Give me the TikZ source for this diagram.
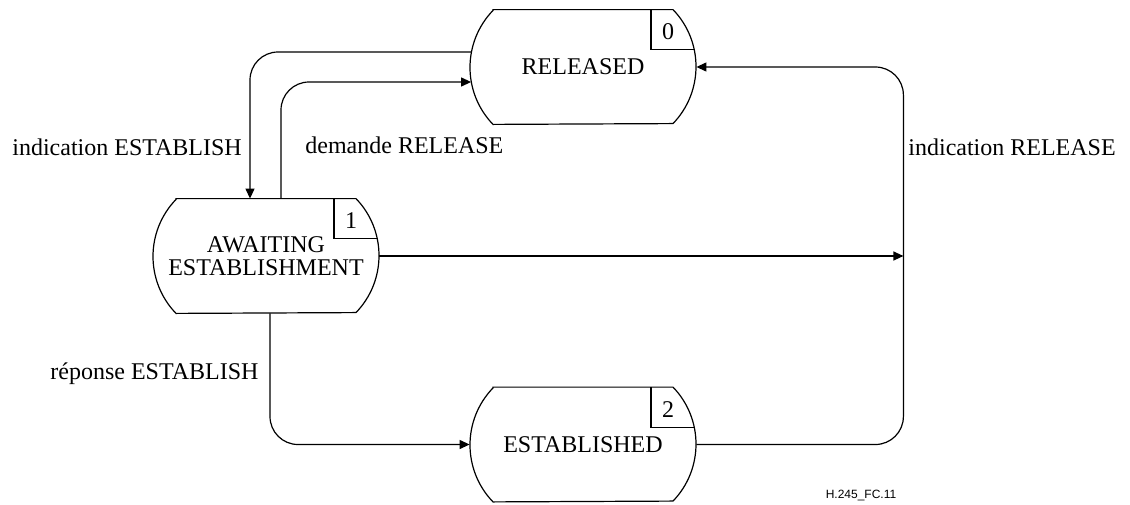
\documentclass[tikz,border=0pt]{standalone}
\usepackage{fontspec}
\setmainfont{Liberation Serif}
\newfontfamily\figfont{Liberation Sans}
\usetikzlibrary{arrows.meta,calc}

\tikzset{
  statebox/.style={rectangle, draw=none, inner sep=0pt, minimum width=113pt, minimum height=57pt, align=center, font=\fontsize{12}{11.6}\selectfont},
  statenum/.style={inner sep=0pt, font=\fontsize{12}{14}\selectfont},
  flow/.style={line width=0.6pt, rounded corners=14pt, -{Triangle[length=5pt,width=4.5pt]}},
  lbl/.style={anchor=base west, inner sep=0pt, font=\fontsize{12}{14}\selectfont},
}

% SDL state symbol: name, position, text, number
\newcommand{\sdlstate}[4]{%
  \node[statebox] (#1) at (#2) {#3};
  \draw[line width=0.6pt] ($(#1.north)+(-90,0)$) -- ($(#1.north)+(90,0)$) arc[start angle=-43.96, end angle=43.96, radius=82.1] -- ($(#1.south)+(-90,0)$) arc[start angle=136.04, end angle=223.96, radius=82.1] -- cycle;
  \draw[line width=0.6pt] ($(#1.north)+(68,0)$) -- ($(#1.north)+(68,40)$) -- ($(#1.north)+(111.2,40)$);
  \node[statenum] (#1-num) at ($(#1.north)+(85,22)$) {#4};
}

\begin{document}
\begin{tikzpicture}[x=0.5pt,y=0.5pt,yscale=-1,xscale=1]
\useasboundingbox (0,0) rectangle (1130,504);

% States
\sdlstate{released}{583,67}{RELEASED}{0}
\sdlstate{awaiting}{266,256}{AWAITING\\ESTABLISHMENT}{1}
\sdlstate{established}{583,444.5}{ESTABLISHED}{2}

\coordinate (relbus) at ($(released.east)+(207,0)$);

%Straight Lines
\draw[flow] ($(released.west)+(1.5,-15)$) -| ($(awaiting.north)+(-16,0)$);
\draw[flow] ($(awaiting.north)+(15,0)$) |- ($(released.west)+(1.5,15)$);
\draw[flow] (awaiting.east) -- (awaiting.east -| relbus);
\draw[flow] ($(awaiting.south)+(4,0)$) |- (established.west);
\draw[flow] (established.east) -| (relbus) -- (released.east);

% Text Node
\node[lbl] (indest) at (12,155) {indication ESTABLISH};
\node[lbl] (demrel) at (305,153) {demande RELEASE};
\node[lbl] (indrel) at (908,155) {indication RELEASE};
\node[lbl] (repest) at (50,379) {réponse ESTABLISH};
\node[inner sep=0pt, font=\figfont\fontsize{6}{7}\selectfont] (figid) at (861,495) {H.245\_FC.11};

\end{tikzpicture}
\end{document}
